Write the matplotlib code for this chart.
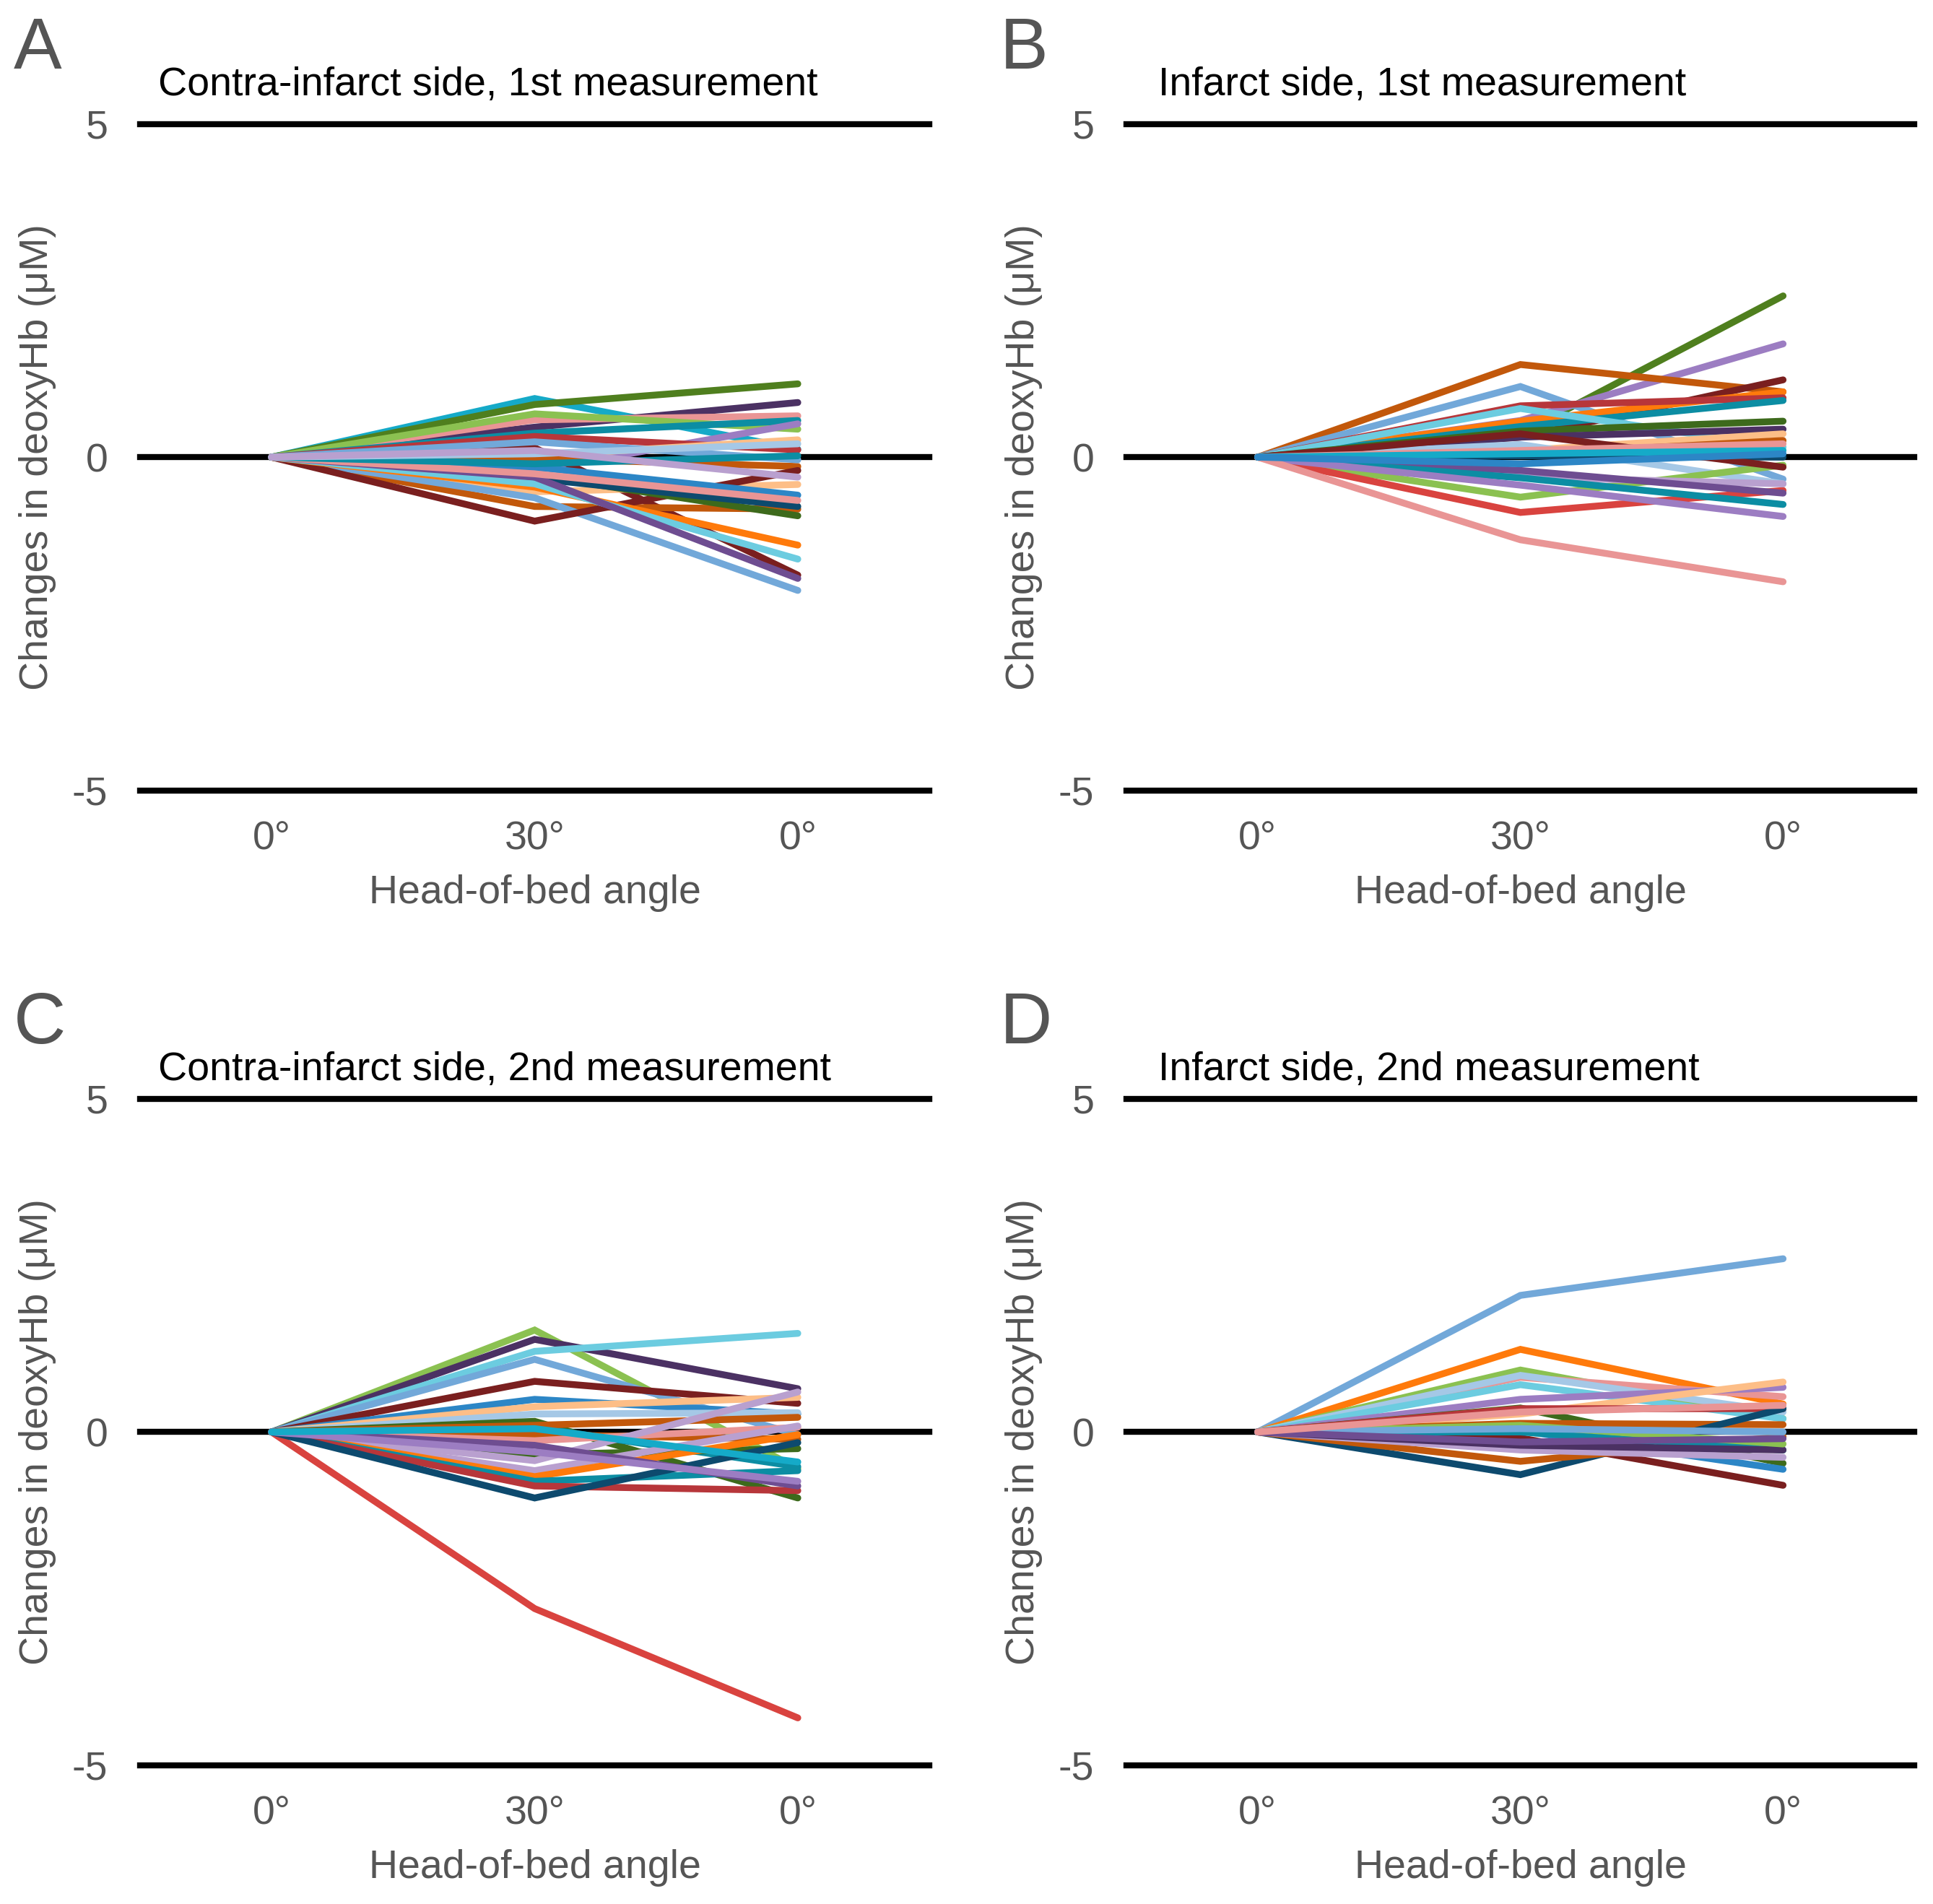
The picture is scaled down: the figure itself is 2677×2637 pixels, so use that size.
import matplotlib.pyplot as plt

# ── data: change in deoxyHb (uM) at 0 deg (=0), 30 deg, back to 0 deg ──
ANGLES = ['0°', '30°', '0°']

A_30  = [0.88, 0.79, 0.45, 0.56, 0.65, 0.36, -0.20, 0.31, 0.02, 0.14, -0.02, 0.23, -0.52,
         -0.74, -0.61, -0.96, -0.27, -0.32, -0.45, -0.40, -0.30, -0.15, -0.25, -0.10, 0.05, 0.10]
A_end = [0.12, 1.10, 0.82, 0.62, 0.42, 0.55, 0.50, 0.11, 0.26, -1.77, -0.14, -0.04, -0.41,
         -0.78, -2.00, -0.20, -0.88, -0.74, -1.32, -1.53, -1.82, -0.57, -0.65, 0.02, 0.20, -0.30]

B_30  = [0.35, 0.55, 1.39, 1.06, 0.30, 0.54, 0.77, 0.46, 0.73, 0.39, 0.30, 0.10, 0.04,
         0.19, 0.02, -0.60, -0.83, -0.30, -0.20, -0.31, -0.42, -1.24, 0.35, 0.10, 0.05, -0.10]
B_end = [2.42, 1.70, 0.98, -0.33, 1.16, 0.98, 0.89, 0.85, 0.15, 0.54, 0.42, 0.35, 0.25,
         -0.40, 0.00, -0.12, -0.50, -0.40, -0.54, -0.71, -0.89, -1.87, -0.15, 0.20, 0.10, 0.05]

C_30  = [-2.65, 1.53, 1.39, 1.21, 1.09, 0.76, 0.49, 0.38, 0.27, 0.16, 0.07, -0.04, 0.10,
         -0.13, -0.34, -0.43, -0.58, -0.67, -0.74, -0.81, -0.99, -0.20, -0.30, 0.05]
C_end = [-4.29, -0.55, 0.65, 1.48, -0.04, 0.43, 0.27, 0.52, 0.29, -0.99, -0.52, -0.11, 0.22,
         0.07, -0.25, 0.60, 0.09, -0.04, -0.58, -0.88, -0.16, -0.81, -0.74, -0.45]

D_30  = [2.05, 1.24, 0.93, 0.82, 0.85, 0.71, 0.49, 0.36, 0.27, 0.35, 0.13, -0.64, -0.09,
         -0.44, 0.02, 0.00, -0.27, -0.20, 0.10, 0.05, -0.15, 0.30]
D_end = [2.60, 0.42, 0.20, 0.53, 0.30, 0.20, 0.67, -0.47, 0.75, 0.35, 0.11, 0.35, -0.80,
         -0.07, -0.56, -0.27, -0.38, -0.27, -0.18, 0.00, -0.10, 0.40]

PAL = {'cyan':'#15AAC8','olive':'#4F7F1E','dpurple':'#4B3163','salmon':'#E99595',
       'lgreen':'#8BC151','teal':'#0C8DA3','brick':'#B7363A','lpurple':'#9C7DC2',
       'peach':'#FDBE87','burnt':'#C2580B','dred':'#7A1F1F','lblue':'#72A8D9',
       'orange':'#FF7A0B','navy':'#0D4A6E','red':'#D9433F','lav':'#B9A0CF',
       'lcyan':'#6CCCE0','blue':'#2C86C6','dgreen':'#3D6A1C','purple':'#6E4D91',
       'pblue':'#A5C8E6'}

A_col = ['cyan','olive','dpurple','salmon','lgreen','teal','lpurple','brick','peach','dred',
         'burnt','lblue','peach','burnt','lblue','dred','dgreen','navy','orange','lcyan',
         'purple','blue','salmon','teal','pblue','lav']
B_col = ['olive','lpurple','burnt','lblue','dred','orange','brick','teal','lcyan','dgreen',
         'dpurple','peach','burnt','pblue','navy','lgreen','red','lav','purple','teal',
         'lpurple','salmon','dred','salmon','cyan','blue']
C_col = ['red','lgreen','dpurple','lcyan','lblue','dred','blue','peach','pblue','dgreen',
         'teal','burnt','burnt','salmon','dgreen','lav','lav','orange','teal','brick',
         'navy','purple','lpurple','cyan']
D_col = ['lblue','orange','lgreen','salmon','pblue','lcyan','lpurple','dgreen','peach','brick',
         'burnt','navy','dred','burnt','blue','teal','lav','dpurple','lgreen','lblue',
         'purple','salmon']

TITLES = ['Contra-infarct side, 1st measurement', 'Infarct side, 1st measurement',
          'Contra-infarct side, 2nd measurement', 'Infarct side, 2nd measurement']
LETTERS = ['A', 'B', 'C', 'D']

plt.rcParams['font.family'] = ['Liberation Sans', 'DejaVu Sans']
GREY = '#555555'
FS = 20

fig = plt.figure(figsize=(13.385, 13.185), dpi=200)
fig.patch.set_facecolor('white')

# axes boxes (left, bottom, width, height) in figure fractions
boxes = [(0.0724, 0.5849, 0.4084, 0.35), (0.5827, 0.5849, 0.4077, 0.35),
         (0.0724, 0.0729, 0.4084, 0.35), (0.5827, 0.0729, 0.4077, 0.35)]
title_dx = [0.0095, 0.0165, 0.0095, 0.0165]
title_dy = [0.0205, 0.0205, 0.0150, 0.0150]
panels = [(A_30, A_end, A_col), (B_30, B_end, B_col), (C_30, C_end, C_col), (D_30, D_end, D_col)]

for i, (box, (mid, end, cols)) in enumerate(zip(boxes, panels)):
    ax = fig.add_axes(box)
    for m, e, c in zip(mid, end, cols):
        ax.plot([0, 1, 2], [0, m, e], color=PAL[c], lw=3.4, solid_capstyle='round',
                solid_joinstyle='miter', zorder=3)
    for yv in (-5, 0, 5):
        ax.axhline(yv, color='black', lw=3.0, zorder=2, clip_on=False)
    ax.set_xlim(-0.5, 2.5)
    ax.set_ylim(-5, 5)
    ax.set_xticks([0, 1, 2], ANGLES)
    ax.set_yticks([-5, 0, 5], ['-5', '0', '5'])
    ax.tick_params(length=0, labelsize=FS, labelcolor=GREY)
    ax.tick_params(axis='y', pad=16)
    ax.tick_params(axis='x', pad=15)
    for sp in ax.spines.values():
        sp.set_visible(False)
    ax.set_xlabel('Head-of-bed angle', fontsize=FS, color=GREY, labelpad=8)

    l, b, w, h = box
    fig.text(l + title_dx[i], b + h + title_dy[i], TITLES[i], fontsize=FS, color='black',
             ha='left', va='center')
    fig.text(l - 0.0655, b + h + 0.039, LETTERS[i], fontsize=36, color=GREY,
             ha='left', va='center')
    fig.text(l - 0.053, b + h / 2, 'Changes in deoxyHb (μM)', fontsize=FS, color=GREY,
             rotation=90, ha='center', va='center')

plt.savefig('out.png', dpi=200, facecolor='white')
